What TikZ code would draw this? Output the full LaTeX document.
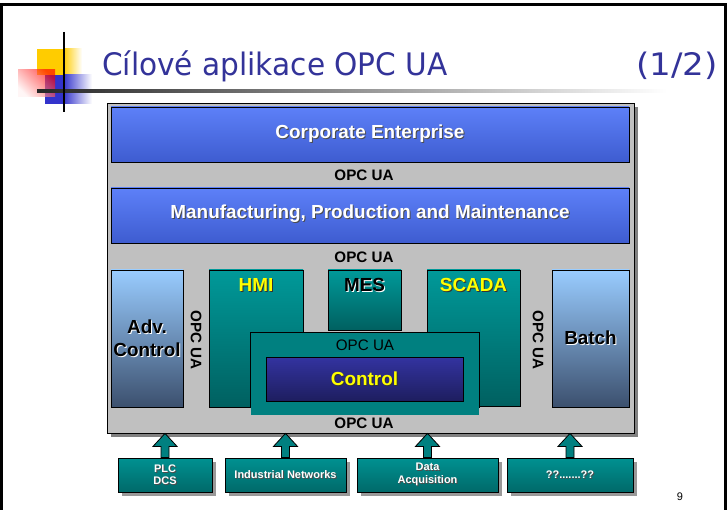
\documentclass[tikz,border=0pt]{standalone}
\usepackage{fontspec}
\setmainfont{Liberation Sans}
\newfontfamily\titlefont[FakeStretch=0.955]{DejaVu Sans}
\newfontfamily\partfont[FakeStretch=1.1]{DejaVu Sans}
\usetikzlibrary{shadows,calc}
\definecolor{ttl}{RGB}{51,51,153}
\definecolor{blueT}{RGB}{93,128,248}
\definecolor{blueB}{RGB}{62,92,208}
\definecolor{tealT}{RGB}{0,153,153}
\definecolor{tealB}{RGB}{0,96,96}
\definecolor{advT}{RGB}{153,204,255}
\definecolor{advB}{RGB}{60,80,110}
\definecolor{ctrlT}{RGB}{51,51,160}
\definecolor{ctrlB}{RGB}{30,30,95}
\definecolor{contTeal}{RGB}{0,128,128}
\definecolor{botT}{RGB}{0,145,145}
\definecolor{botB}{RGB}{0,105,105}
\definecolor{panelgrey}{RGB}{192,192,192}
\definecolor{yel}{RGB}{255,255,0}
\definecolor{logoY}{RGB}{255,204,0}
\definecolor{logoB}{RGB}{51,51,204}
\newcommand\shd[2]{\makebox[0pt][l]{\hspace{1pt}\raisebox{-1pt}{\textcolor{#1}{#2}}}#2}
\tikzset{
  big/.style={font=\bfseries\fontsize{18.9}{22}\selectfont},
  opc/.style={font=\bfseries\fontsize{15.2}{18}\selectfont, text=black, inner sep=0pt},
  bluebox/.style={draw=black, line width=0.8pt, top color=blueT, bottom color=blueB,
     minimum width=518pt, minimum height=55pt, big, text=white},
  tealbox/.style={draw=black, line width=0.8pt, top color=tealT, bottom color=tealB},
  advbox/.style={draw=black, line width=0.8pt, top color=advT, bottom color=advB, big,
     align=center, text=black},
  botbox/.style={draw=black, line width=0.8pt, top color=botT, bottom color=botB,
     minimum height=34pt, text=white, align=center,
     font=\bfseries\fontsize{11}{12.5}\selectfont,
     drop shadow={shadow xshift=4pt, shadow yshift=-4pt, fill=black!40, opacity=1}},
  barrow/.style={draw=black, line width=0.8pt, fill=contTeal},
}
\begin{document}
\begin{tikzpicture}[x=1pt,y=-1pt]
\useasboundingbox (0,0) rectangle (727,510);
\fill[white] (0,0) rectangle (727,510);
% slide frame
\draw[line width=3pt] (1.5,510) -- (1.5,4.5) -- (725.5,4.5) -- (725.5,510);
% logo
\fill[logoY] (37,49) rectangle (63,75);
\shade[left color=logoY, right color=white] (63,49) rectangle (82,75);
\fill[logoB] (45,75) rectangle (63,104);
\shade[left color=logoB, right color=white] (63,75) rectangle (92,104);
\shade[left color=red!5, right color=red, shading angle=135, opacity=0.65] (18,70) rectangle (55,97);
\shade[left color=black!85, right color=white] (37,90) rectangle (667,93);
\draw[line width=2.5pt] (64,32) -- (64,112);
% title
\node[anchor=base west, inner sep=0pt, text=ttl, font=\titlefont\fontsize{31}{36}\selectfont] (title) at (102,76) {Cílové aplikace OPC UA};
\node[anchor=base east, inner sep=0pt, text=ttl, font=\partfont\fontsize{31}{36}\selectfont] (part) at (718,76) {(1/2)};
% panel
\node[draw=black, line width=0.8pt, fill=panelgrey, minimum width=527pt, minimum height=330pt,
      drop shadow={shadow xshift=4pt, shadow yshift=-4pt, fill=black!50, opacity=1}] (panel) at (370.5,268) {};
\node[bluebox] (corp) at (370,134.5) {\shd{black!70}{Corporate Enterprise}};
\node[opc] (opc1) at (364,175) {OPC UA};
\node[bluebox] (manu) at (370,215.5) {};
\node[big, text=white, inner sep=0pt] (manut) at (370,214.5) {\shd{black!70}{Manufacturing, Production and Maintenance}};
\node[opc] (opc2) at (364,257) {OPC UA};
% lower row
\node[advbox, minimum width=72pt, minimum height=137pt] (adv) at (147,338.5) {};
\node[big, text=black, align=center, inner sep=0pt] (advt) at (147,339) {\shd{white}{Adv.}\\[1pt]\shd{white}{Control}};
\node[opc, rotate=-90] (opc3) at (196,340) {OPC UA};
\node[tealbox, minimum width=94pt, minimum height=137pt] (hmi) at (256,338.5) {};
\node[big, text=yel, inner sep=0pt] (hmit) at (256,285) {\shd{black!80}{HMI}};
\node[tealbox, minimum width=73pt, minimum height=60pt] (mes) at (364.5,300) {};
\node[big, text=black, inner sep=0pt] (mest) at (364.5,285) {\shd{white}{MES}};
\node[tealbox, minimum width=93pt, minimum height=136pt] (scada) at (473.5,338) {};
\node[big, text=yel, inner sep=0pt] (scadat) at (473.5,285) {\shd{black!80}{SCADA}};
\node[opc, rotate=-90] (opc4) at (538,340) {OPC UA};
\node[advbox, minimum width=77pt, minimum height=137pt] (batch) at (590.5,338.5) {\shd{white}{Batch}};
% control container
\node[fill=contTeal, minimum width=228pt, minimum height=82pt, inner sep=0pt] (cont) at (365,374) {};
\draw[line width=0.8pt] ([yshift=7pt]cont.south west) -- (cont.north west) -- (cont.north east) -- ([yshift=7pt]cont.south east);
\node[opc, font=\fontsize{15.2}{18}\selectfont] (opc5) at (365,345) {OPC UA};
\node[draw=black, line width=0.8pt, top color=ctrlT, bottom color=ctrlB, minimum width=197pt, minimum height=44pt,
      big, text=yel] (ctrl) at (364.5,379) {\shd{black!80}{Control}};
\node[opc] (opc6) at (364,423) {OPC UA};
% bottom sources
\node[botbox, minimum width=94pt] (plc) at (165,475) {\shd{black!70}{PLC}\\\shd{black!70}{DCS}};
\node[botbox, minimum width=121pt] (inet) at (285.5,475) {\shd{black!70}{Industrial Networks}};
\node[botbox, minimum width=141pt] (daq) at (427.5,475) {\shd{black!70}{Data}\\\shd{black!70}{Acquisition}};
\node[botbox, minimum width=126pt] (unk) at (570,475) {\shd{black!70}{??.......??}};
\foreach \b in {plc,inet,daq,unk}{
  \draw[barrow] ([xshift=-4pt]\b.north) -- ($(\b.north |- panel.south)+(-4,13)$)
     -- ($(\b.north |- panel.south)+(-12,13)$) -- (\b.north |- panel.south)
     -- ($(\b.north |- panel.south)+(12,13)$) -- ($(\b.north |- panel.south)+(4,13)$)
     -- ([xshift=4pt]\b.north) -- cycle;
}
\node[font=\fontsize{11}{13}\selectfont] (pg) at (680,497) {9};
\end{tikzpicture}
\end{document}
